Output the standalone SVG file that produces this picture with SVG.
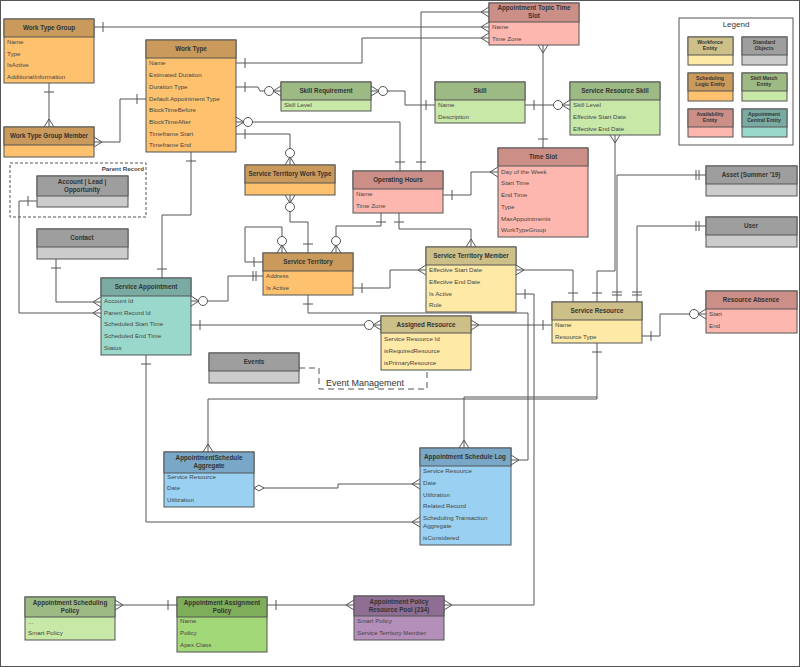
<svg xmlns="http://www.w3.org/2000/svg" width="800" height="667" viewBox="0 0 800 667">
<style>
text{font-family:"Liberation Sans",Arial,sans-serif;fill:#333}
.h{font-size:6.3px;font-weight:bold;text-anchor:middle}
.r{font-size:6.2px;fill:#444}
.s{font-size:5.2px;font-weight:bold;text-anchor:middle}
rect{stroke:#555;stroke-width:1}
.c path,.c polyline,.c line{fill:none;stroke:#555;stroke-width:1}
.sl .hd{fill:#c99a5b}.sl .bd{fill:#fec26f}
.wf .hd{fill:#cdbf88}.wf .bd{fill:#fee9a6}
.av .hd{fill:#cc8f88}.av .bd{fill:#feb7ae}
.sk .hd{fill:#9dba85}.sk .bd{fill:#c8e8a8}
.st .hd{fill:#9e9e9e}.st .bd{fill:#cccccc}
.ac .hd{fill:#7aaba2}.ac .bd{fill:#9bd8cc}
.bl .hd{fill:#79a7c7}.bl .bd{fill:#9ad1f2}
.gp .hd{fill:#7fae5a}.gp .bd{fill:#a3d879}
.pp .hd{fill:#8e6f93}.pp .bd{fill:#b48fba}
</style>
<defs>
<marker id="one" viewBox="-20 -8 22 16" refX="0" refY="0" markerWidth="22" markerHeight="16" markerUnits="userSpaceOnUse" orient="auto-start-reverse"><line x1="-9" y1="-5" x2="-9" y2="5" stroke="#555"/></marker>
<marker id="two" viewBox="-20 -8 22 16" refX="0" refY="0" markerWidth="22" markerHeight="16" markerUnits="userSpaceOnUse" orient="auto-start-reverse"><path d="M-7-5V5M-10-5V5" stroke="#555"/></marker>
<marker id="many" viewBox="-20 -8 22 16" refX="0" refY="0" markerWidth="22" markerHeight="16" markerUnits="userSpaceOnUse" orient="auto-start-reverse"><path d="M-8 0L0-5M-8 0L0 5" stroke="#555" fill="none"/></marker>
<marker id="zmany" viewBox="-20 -8 22 16" refX="0" refY="0" markerWidth="22" markerHeight="16" markerUnits="userSpaceOnUse" orient="auto-start-reverse"><path d="M-8 0L0-5M-8 0L0 5" stroke="#555" fill="none"/><circle cx="-12" cy="0" r="4.5" fill="#fff" stroke="#555"/></marker>
<marker id="dia" viewBox="-20 -8 22 16" refX="0" refY="0" markerWidth="22" markerHeight="16" markerUnits="userSpaceOnUse" orient="auto-start-reverse"><path d="M0 0L-5-3L-10 0L-5 3Z" stroke="#555" fill="#fff"/></marker>
</defs>
<rect x="0.5" y="0.5" width="799" height="666" fill="#fff" stroke="#999"/>
<g class="c" id="connectors">
<polyline points="94,27 489,27" marker-start="url(#one)" marker-end="url(#many)"/>
<polyline points="421,171 421,12 489,12" marker-start="url(#one)" marker-end="url(#many)"/>
<polyline points="236,63 362,63 362,38 489,38" marker-start="url(#one)" marker-end="url(#many)"/>
<polyline points="49,83 49,127" marker-start="url(#one)" marker-end="url(#many)"/>
<polyline points="94,142 120,142 120,99 146,99" marker-start="url(#many)" marker-end="url(#one)"/>
<polyline points="236,87 258,87 260,91 281,91" marker-start="url(#one)" marker-end="url(#zmany)"/>
<polyline points="371,91 405,91 405,105 435,105" marker-start="url(#zmany)" marker-end="url(#one)"/>
<polyline points="525,105 570,105" marker-start="url(#one)" marker-end="url(#zmany)"/>
<polyline points="236,122 400,122 400,171" marker-start="url(#zmany)" marker-end="url(#one)"/>
<polyline points="236,134 290,134 290,165" marker-start="url(#one)" marker-end="url(#zmany)"/>
<polyline points="191,152 191,215 162,215 162,278" marker-start="url(#one)" marker-end="url(#one)"/>
<polyline points="290,195 290,222 308,222 308,253" marker-start="url(#zmany)" marker-end="url(#one)"/>
<polyline points="263,262 245,262 245,227 282,227 282,253" marker-start="url(#one)" marker-end="url(#zmany)"/>
<polyline points="381,213 381,226 336,226 336,253" marker-start="url(#one)" marker-end="url(#zmany)"/>
<polyline points="399,213 399,229 471,229 471,247" marker-start="url(#one)" marker-end="url(#many)"/>
<polyline points="443,195 471,195 471,172 498,172" marker-start="url(#one)" marker-end="url(#many)"/>
<polyline points="543,45 543,148" marker-start="url(#many)" marker-end="url(#one)"/>
<polyline points="615,135 615,271 597,271 597,302" marker-start="url(#many)" marker-end="url(#one)"/>
<polyline points="617,302 617,175 706,175" marker-start="url(#two)" marker-end="url(#two)"/>
<polyline points="637,302 637,226 706,226" marker-start="url(#two)" marker-end="url(#two)"/>
<polyline points="516,270 573,270 573,302" marker-start="url(#many)" marker-end="url(#one)"/>
<polyline points="353,288 390,288 390,270 426,270" marker-start="url(#one)" marker-end="url(#many)"/>
<polyline points="191,301 228,301 228,276 263,276" marker-start="url(#zmany)" marker-end="url(#two)"/>
<polyline points="191,325 381,325" marker-start="url(#one)" marker-end="url(#zmany)"/>
<polyline points="471,325 552,325" marker-start="url(#many)" marker-end="url(#one)"/>
<polyline points="308,295 308,313 528,313 528,460 511,460" marker-start="url(#one)" marker-end="url(#many)"/>
<polyline points="516,294 534,294 534,605 444,605" marker-start="url(#one)" marker-end="url(#many)"/>
<polyline points="597,343 597,399 208,399 208,452" marker-start="url(#one)" marker-end="url(#many)"/>
<polyline points="597,397 464,397 464,448" marker-end="url(#many)"/>
<polyline points="642,336 660,336 660,314 706,314" marker-start="url(#one)" marker-end="url(#zmany)"/>
<polyline points="254,488 338,488 338,484 420,484" marker-start="url(#dia)" marker-end="url(#many)"/>
<polyline points="146,355 146,522 420,522" marker-start="url(#one)" marker-end="url(#many)"/>
<polyline points="115,605 177,605" marker-start="url(#many)" marker-end="url(#one)"/>
<polyline points="267,605 354,605" marker-start="url(#one)" marker-end="url(#many)"/>
<polyline points="56,259 56,302 101,302" marker-start="url(#one)" marker-end="url(#many)"/>
<polyline points="37,201 19,201 19,313 101,313" marker-start="url(#one)" marker-end="url(#many)"/>
<polyline points="299,368 319,368 319,389 427,389 427,370" stroke-dasharray="6,4"/>
</g>
<rect x="10" y="163" width="136" height="54" fill="none" stroke="#777" stroke-dasharray="3,2"/>
<text x="144" y="171" class="r" style="text-anchor:end;font-weight:bold">Parent Record</text>
<text x="326" y="386" style="font-size:9px">Event Management</text>

<g id="wtg" class="sl"><rect class="bd" x="4" y="19" width="90" height="64"/><rect class="hd" x="4" y="19" width="90" height="18"/><text class="h" x="49" y="30">Work Type Group</text><text class="r" x="7" y="44">Name</text><text class="r" x="7" y="56">Type</text><text class="r" x="7" y="67">IsActive</text><text class="r" x="7" y="79">AdditionalInformation</text></g>
<g id="wt" class="sl"><rect class="bd" x="146" y="40" width="90" height="112"/><rect class="hd" x="146" y="40" width="90" height="18"/><text class="h" x="191" y="51">Work Type</text><text class="r" x="149" y="65">Name</text><text class="r" x="149" y="77">Estimated Duration</text><text class="r" x="149" y="89">Duration Type</text><text class="r" x="149" y="101">Default Appointment Type</text><text class="r" x="149" y="112">BlockTimeBefore</text><text class="r" x="149" y="124">BlockTimeAfter</text><text class="r" x="149" y="136">Timeframe Start</text><text class="r" x="149" y="147">Timeframe End</text></g>
<g id="wtgm" class="sl"><rect class="bd" x="4" y="127" width="90" height="30"/><rect class="hd" x="4" y="127" width="90" height="18"/><text class="h" x="49" y="138">Work Type Group Member</text></g>
<g id="skr" class="sk"><rect class="bd" x="281" y="82" width="90" height="29"/><rect class="hd" x="281" y="82" width="90" height="18"/><text class="h" x="326" y="93">Skill Requirement</text><text class="r" x="284" y="107">Skill Level</text></g>
<g id="skill" class="sk"><rect class="bd" x="435" y="82" width="90" height="41"/><rect class="hd" x="435" y="82" width="90" height="18"/><text class="h" x="480" y="93">Skill</text><text class="r" x="438" y="107">Name</text><text class="r" x="438" y="119">Description</text></g>
<g id="srs" class="sk"><rect class="bd" x="570" y="82" width="90" height="53"/><rect class="hd" x="570" y="82" width="90" height="18"/><text class="h" x="615" y="93">Service Resource Skill</text><text class="r" x="573" y="107">Skill Level</text><text class="r" x="573" y="119">Effective Start Date</text><text class="r" x="573" y="131">Effective End Date</text></g>
<g id="atts" class="av"><rect class="bd" x="489" y="3" width="90" height="42"/><rect class="hd" x="489" y="3" width="90" height="19"/><text class="h" x="534" y="10">Appointment Topic Time</text><text class="h" x="534" y="18">Slot</text><text class="r" x="492" y="29">Name</text><text class="r" x="492" y="41">Time Zone</text></g>
<g id="legend"><rect x="679" y="18" width="114" height="127" fill="#fff" stroke="#777"/><text x="736" y="27" style="font-size:8px;text-anchor:middle">Legend</text>
<g class="wf"><rect class="bd" x="688" y="37" width="45" height="28"/><rect class="hd" x="688" y="37" width="45" height="18"/><text class="s" x="710" y="44">Workforce</text><text class="s" x="710" y="50">Entity</text></g>
<g class="st"><rect class="bd" x="742" y="37" width="45" height="28"/><rect class="hd" x="742" y="37" width="45" height="18"/><text class="s" x="764" y="44">Standard</text><text class="s" x="764" y="50">Objects</text></g>
<g class="sl"><rect class="bd" x="688" y="73" width="45" height="28"/><rect class="hd" x="688" y="73" width="45" height="18"/><text class="s" x="710" y="80">Scheduling</text><text class="s" x="710" y="86">Logic Entity</text></g>
<g class="sk"><rect class="bd" x="742" y="73" width="45" height="28"/><rect class="hd" x="742" y="73" width="45" height="18"/><text class="s" x="764" y="80">Skill Match</text><text class="s" x="764" y="86">Entity</text></g>
<g class="av"><rect class="bd" x="688" y="109" width="45" height="28"/><rect class="hd" x="688" y="109" width="45" height="18"/><text class="s" x="710" y="116">Availability</text><text class="s" x="710" y="122">Entity</text></g>
<g class="ac"><rect class="bd" x="742" y="109" width="45" height="28"/><rect class="hd" x="742" y="109" width="45" height="18"/><text class="s" x="764" y="116">Appointment</text><text class="s" x="764" y="122">Central Entity</text></g></g>
<g id="ts" class="av"><rect class="bd" x="498" y="148" width="90" height="89"/><rect class="hd" x="498" y="148" width="90" height="18"/><text class="h" x="543" y="159">Time Slot</text><text class="r" x="501" y="174">Day of the Week</text><text class="r" x="501" y="185">Start Time</text><text class="r" x="501" y="197">End Time</text><text class="r" x="501" y="209">Type</text><text class="r" x="501" y="221">MaxAppointments</text><text class="r" x="501" y="232">WorkTypeGroup</text></g>
<g id="oh" class="av"><rect class="bd" x="353" y="171" width="90" height="42"/><rect class="hd" x="353" y="171" width="90" height="18"/><text class="h" x="398" y="182">Operating Hours</text><text class="r" x="356" y="196">Name</text><text class="r" x="356" y="208">Time Zone</text></g>
<g id="stwt" class="sl"><rect class="bd" x="245" y="165" width="90" height="30"/><rect class="hd" x="245" y="165" width="90" height="18"/><text class="h" x="290" y="176">Service Territory Work Type</text></g>
<g id="acct" class="st"><rect class="bd" x="37" y="176" width="91" height="31"/><rect class="hd" x="37" y="176" width="91" height="20"/><text class="h" x="82" y="184">Account | Lead |</text><text class="h" x="82" y="192">Opportunity</text></g>
<g id="contact" class="st"><rect class="bd" x="37" y="229" width="91" height="30"/><rect class="hd" x="37" y="229" width="91" height="18"/><text class="h" x="82" y="240">Contact</text></g>
<g id="st" class="sl"><rect class="bd" x="263" y="253" width="90" height="42"/><rect class="hd" x="263" y="253" width="90" height="18"/><text class="h" x="308" y="264">Service Territory</text><text class="r" x="266" y="278">Address</text><text class="r" x="266" y="290">Is Active</text></g>
<g id="stm" class="wf"><rect class="bd" x="426" y="247" width="90" height="65"/><rect class="hd" x="426" y="247" width="90" height="18"/><text class="h" x="471" y="258">Service Territory Member</text><text class="r" x="429" y="272">Effective Start Date</text><text class="r" x="429" y="284">Effective End Date</text><text class="r" x="429" y="296">Is Active</text><text class="r" x="429" y="307">Role</text></g>
<g id="asset" class="st"><rect class="bd" x="706" y="166" width="91" height="30"/><rect class="hd" x="706" y="166" width="91" height="18"/><text class="h" x="751" y="177">Asset (Summer '19)</text></g>
<g id="user" class="st"><rect class="bd" x="706" y="217" width="91" height="30"/><rect class="hd" x="706" y="217" width="91" height="18"/><text class="h" x="751" y="228">User</text></g>
<g id="sa" class="ac"><rect class="bd" x="101" y="278" width="90" height="77"/><rect class="hd" x="101" y="278" width="90" height="18"/><text class="h" x="146" y="289">Service Appointment</text><text class="r" x="104" y="303">Account Id</text><text class="r" x="104" y="315">Parent Record Id</text><text class="r" x="104" y="326">Scheduled Start Time</text><text class="r" x="104" y="338">Scheduled End Time</text><text class="r" x="104" y="350">Status</text></g>
<g id="sr" class="wf"><rect class="bd" x="552" y="302" width="90" height="41"/><rect class="hd" x="552" y="302" width="90" height="18"/><text class="h" x="597" y="313">Service Resource</text><text class="r" x="555" y="327">Name</text><text class="r" x="555" y="339">Resource Type</text></g>
<g id="ra" class="av"><rect class="bd" x="706" y="291" width="91" height="42"/><rect class="hd" x="706" y="291" width="91" height="18"/><text class="h" x="751" y="302">Resource Absence</text><text class="r" x="709" y="316">Start</text><text class="r" x="709" y="328">End</text></g>
<g id="ar" class="wf"><rect class="bd" x="381" y="316" width="90" height="54"/><rect class="hd" x="381" y="316" width="90" height="17"/><text class="h" x="426" y="327">Assigned Resource</text><text class="r" x="384" y="341">Service Resource Id</text><text class="r" x="384" y="353">isRequiredResource</text><text class="r" x="384" y="365">isPrimaryResource</text></g>
<g id="events" class="st"><rect class="bd" x="209" y="353" width="90" height="30"/><rect class="hd" x="209" y="353" width="90" height="18"/><text class="h" x="254" y="364">Events</text></g>
<g id="asa" class="bl"><rect class="bd" x="164" y="452" width="90" height="55"/><rect class="hd" x="164" y="452" width="90" height="21"/><text class="h" x="209" y="460">AppointmentSchedule</text><text class="h" x="209" y="468">Aggregate</text><text class="r" x="167" y="479">Service Resource</text><text class="r" x="167" y="490">Date</text><text class="r" x="167" y="502">Utilization</text></g>
<g id="asl" class="bl"><rect class="bd" x="420" y="448" width="91" height="97"/><rect class="hd" x="420" y="448" width="91" height="18"/><text class="h" x="465" y="459">Appointment Schedule Log</text><text class="r" x="423" y="473">Service Resource</text><text class="r" x="423" y="485">Date</text><text class="r" x="423" y="497">Utilization</text><text class="r" x="423" y="508">Related Record</text><text class="r" x="423" y="520">Scheduling Transaction</text><text class="r" x="423" y="528">Aggregate</text><text class="r" x="423" y="540">isConsidered</text></g>
<g id="asp" class="sk"><rect class="bd" x="25" y="597" width="90" height="43"/><rect class="hd" x="25" y="597" width="90" height="20"/><text class="h" x="70" y="605">Appointment Scheduling</text><text class="h" x="70" y="613">Policy</text><text class="r" x="28" y="624">...</text><text class="r" x="28" y="635">Smart Policy</text></g>
<g id="aap" class="gp"><rect class="bd" x="177" y="597" width="90" height="55"/><rect class="hd" x="177" y="597" width="90" height="20"/><text class="h" x="222" y="605">Appointment Assignment</text><text class="h" x="222" y="613">Policy</text><text class="r" x="180" y="623">Name</text><text class="r" x="180" y="635">Policy</text><text class="r" x="180" y="647">Apex Class</text></g>
<g id="aprp" class="pp"><rect class="bd" x="354" y="596" width="90" height="44"/><rect class="hd" x="354" y="596" width="90" height="20"/><text class="h" x="399" y="604">Appointment Policy</text><text class="h" x="399" y="612">Resource Pool (234)</text><text class="r" x="357" y="623">Smart Policy</text><text class="r" x="357" y="635">Service Territory Member</text></g>
</svg>
